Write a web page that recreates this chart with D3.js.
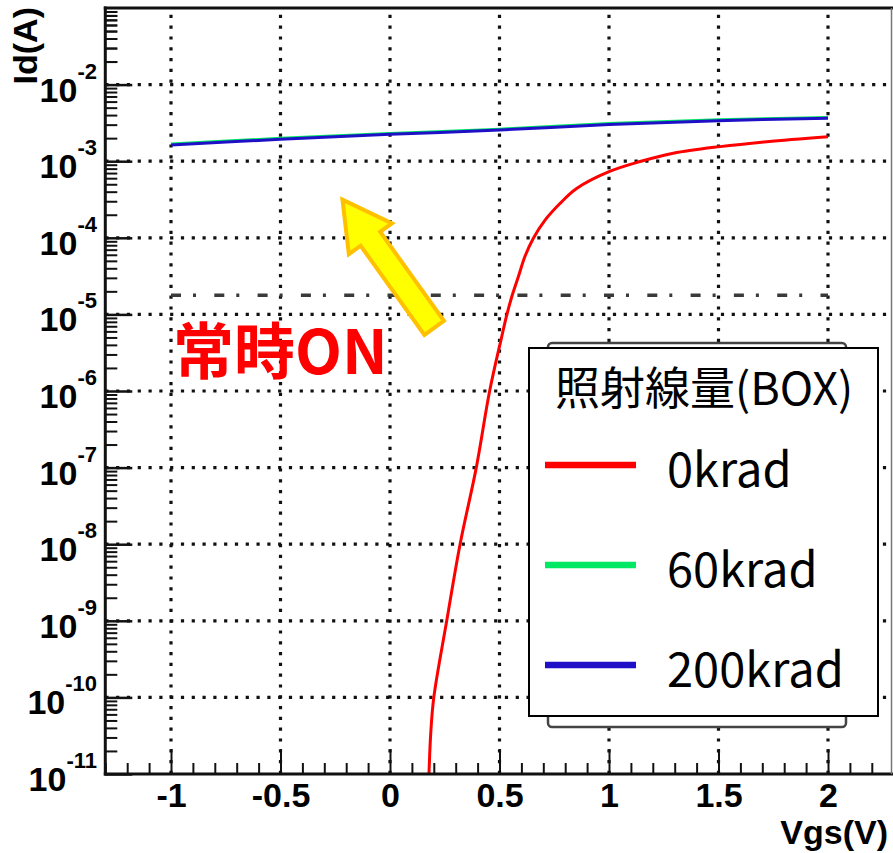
<!DOCTYPE html>
<html><head><meta charset="utf-8">
<script src="https://cdn.jsdelivr.net/npm/d3@7"></script>
<style>body{margin:0;background:#fff}</style>
</head><body><svg id="c" width="893" height="853"></svg>
<script>
// ---- data ----
const seriesNames = ["0krad", "60krad", "200krad"];
const seriesColors = ["#ff0000", "#00e864", "#1f10c8"];
const vgs0 = [0.178, 0.186, 0.200, 0.259, 0.320, 0.394, 0.455, 0.510, 0.533, 0.556, 0.586, 0.616, 0.654, 0.708, 0.776, 0.852, 1.0, 1.142, 1.294, 1.507, 1.72, 2.0];
const id0 = [1e-11, 3.4e-11, 1e-10, 1e-9, 1e-8, 1e-7, 1e-6, 5.1e-6, 9.8e-6, 1.7e-5, 3.1e-5, 5.7e-5, 9.8e-5, 1.7e-4, 2.8e-4, 4.4e-4, 7.3e-4, 9.9e-4, 1.27e-3, 1.55e-3, 1.8e-3, 2.09e-3];
const vgsRad = [-1, -0.5, 0, 0.5, 1, 1.5, 2];
const id60 = [1.68e-3, 1.99e-3, 2.3e-3, 2.62e-3, 3.1e-3, 3.47e-3, 3.72e-3];
const id200 = [1.63e-3, 1.93e-3, 2.24e-3, 2.55e-3, 3.02e-3, 3.38e-3, 3.63e-3];
const thresholdVgs = [-1, 2];
const thresholdId = [1.78e-5, 1.78e-5];
const xTicks = [-1, -0.5, 0, 0.5, 1, 1.5, 2];
const xTickLabels = ["-1", "-0.5", "0", "0.5", "1", "1.5", "2"];
const yExponents = [-11, -10, -9, -8, -7, -6, -5, -4, -3, -2];
const legendTitle = "照射線量(BOX)";
const noteText = "常時ON";
const arrowTail = [0.207, 6.35e-6];
const arrowTip = [-0.225, 3.38e-4];

// ---- layout ----
const svg = d3.select("#c");
const L = 105.3, R = 893.7, T = 8, B = 774;
const x = d3.scaleLinear().domain([-1.3, 2.3]).range([L, R]);
const y = d3.scaleLog().domain([1e-11, 1e-1]).range([B, T]);
const axisFont = "'Liberation Sans', Arial, Helvetica, sans-serif";
const cjkFont = "'Noto Sans CJK JP', 'Noto Sans', sans-serif";

svg.append("rect").attr("width", 893).attr("height", 853).attr("fill", "#fff");

svg.append("defs").append("clipPath").attr("id", "clip")
  .append("rect").attr("x", L).attr("y", T).attr("width", R - L).attr("height", B - T);

// grid
const grid = svg.append("g").attr("stroke", "#111").attr("stroke-width", 3.2).attr("stroke-dasharray", "3.2,7.6");
grid.selectAll(".gv").data(xTicks).join("line")
  .attr("x1", d => x(d)).attr("x2", d => x(d)).attr("y1", B).attr("y2", T);
grid.selectAll(".gh").data(yExponents.filter(e => e > -11)).join("line")
  .attr("y1", d => y(Math.pow(10, d))).attr("y2", d => y(Math.pow(10, d)))
  .attr("x1", L).attr("x2", R);

// threshold dash-dot line
svg.append("line")
  .attr("x1", x(thresholdVgs[0])).attr("x2", x(thresholdVgs[1]))
  .attr("y1", y(thresholdId[0])).attr("y2", y(thresholdId[1]))
  .attr("stroke", "#3a3a3a").attr("stroke-width", 3.5)
  .attr("stroke-dasharray", "10,12,3,18.3");

// curves
const plot = svg.append("g").attr("clip-path", "url(#clip)");
const line = d3.line().x(d => x(d[0])).y(d => y(d[1])).curve(d3.curveCatmullRom.alpha(0.5));
const series = [
  d3.zip(vgs0, id0),
  d3.zip(vgsRad, id60),
  d3.zip(vgsRad, id200)
];
series.forEach((s, i) => {
  plot.append("path").datum(s).attr("d", line)
    .attr("fill", "none").attr("stroke", seriesColors[i]).attr("stroke-width", 3);
});

// axes: x
const xMinor = d3.range(-13, 24).map(v => v / 10).filter(v => Math.abs(v * 2 - Math.round(v * 2)) > 1e-6);
svg.append("g").attr("transform", `translate(0,${B})`)
  .call(d3.axisBottom(x).tickValues(xMinor).tickSize(-11).tickFormat(""))
  .call(g => g.select(".domain").remove())
  .call(g => g.selectAll("line").attr("stroke", "#111").attr("stroke-width", 2));
svg.append("g").attr("transform", `translate(0,${B})`)
  .call(d3.axisBottom(x).tickValues(xTicks).tickSize(-25).tickPadding(9)
    .tickFormat((d, i) => xTickLabels[i]))
  .call(g => g.select(".domain").remove())
  .call(g => g.selectAll("line").attr("stroke", "#111").attr("stroke-width", 2))
  .call(g => g.selectAll("text").attr("font-family", axisFont).attr("font-weight", "bold")
    .attr("font-size", 34).attr("fill", "#000"));

// axes: y
const yMinor = [];
yExponents.forEach(e => { for (let k = 2; k <= 9; k++) yMinor.push(k * Math.pow(10, e)); });
for (let k = 2; k <= 9; k++) yMinor.push(k * 1e-2);
svg.append("g").attr("transform", `translate(${L},0)`)
  .call(d3.axisLeft(y).tickValues(yMinor).tickSize(-12).tickFormat(""))
  .call(g => g.select(".domain").remove())
  .call(g => g.selectAll("line").attr("stroke", "#111").attr("stroke-width", 2));
svg.append("g").attr("transform", `translate(${L},0)`)
  .call(d3.axisLeft(y).tickValues(yExponents.map(e => Math.pow(10, e))).tickSize(-27).tickFormat(""))
  .call(g => g.select(".domain").remove())
  .call(g => g.selectAll("line").attr("stroke", "#111").attr("stroke-width", 2.5));

const ylab = svg.append("g").attr("font-family", axisFont).attr("font-weight", "bold").attr("fill", "#000");
yExponents.forEach(e => {
  const t = ylab.append("text").attr("x", 97).attr("y", y(Math.pow(10, e)) + 17).attr("text-anchor", "end");
  t.append("tspan").attr("font-size", 34).text("10");
  t.append("tspan").attr("font-size", 22).attr("dy", -23).text(String(e));
});

// frame
svg.append("line").attr("x1", L).attr("x2", L).attr("y1", T - 1.5).attr("y2", B + 1.5).attr("stroke", "#111").attr("stroke-width", 3);
svg.append("line").attr("x1", L - 1.5).attr("x2", 893).attr("y1", B).attr("y2", B).attr("stroke", "#111").attr("stroke-width", 3);
svg.append("line").attr("x1", L - 1.5).attr("x2", 893).attr("y1", T).attr("y2", T).attr("stroke", "#111").attr("stroke-width", 3);
svg.append("line").attr("x1", 891.5).attr("x2", 891.5).attr("y1", T).attr("y2", B).attr("stroke", "#777").attr("stroke-width", 1.5);

// axis titles
svg.append("text").attr("transform", "translate(37,7) rotate(-90)").attr("text-anchor", "end")
  .attr("font-family", axisFont).attr("font-weight", "bold").attr("font-size", 34).text("Id(A)");
svg.append("text").attr("x", 888).attr("y", 844).attr("text-anchor", "end")
  .attr("font-family", axisFont).attr("font-weight", "bold").attr("font-size", 34).text("Vgs(V)");

// legend
svg.append("rect").attr("x", 548).attr("y", 343).attr("width", 298).attr("height", 384).attr("rx", 4)
  .attr("fill", "#fff").attr("stroke", "#444").attr("stroke-width", 2.5);
svg.append("rect").attr("x", 529).attr("y", 348).attr("width", 349).attr("height", 368)
  .attr("fill", "#fff").attr("stroke", "#000").attr("stroke-width", 2);
svg.append("text").attr("x", 555).attr("y", 405).attr("font-family", cjkFont).attr("font-size", 45)
  .attr("fill", "#000").text(legendTitle);
const legRowY = [465, 565, 665];
seriesNames.forEach((n, i) => {
  svg.append("line").attr("x1", 545).attr("x2", 636).attr("y1", legRowY[i]).attr("y2", legRowY[i])
    .attr("stroke", seriesColors[i]).attr("stroke-width", 6.5);
  svg.append("text").attr("x", 667).attr("y", legRowY[i] + 22).attr("font-family", cjkFont)
    .attr("font-size", 47).attr("fill", "#000").text(n);
});

// annotation text
svg.append("text").attr("x", 173).attr("y", 374).attr("font-family", cjkFont).attr("font-weight", "bold")
  .attr("font-size", 61).attr("fill", "#ff0000").text(noteText);

// arrow
const tp = [x(arrowTip[0]), y(arrowTip[1])];
const tl = [x(arrowTail[0]), y(arrowTail[1])];
const ang = Math.atan2(tl[1] - tp[1], tl[0] - tp[0]) * 180 / Math.PI;
const len = Math.hypot(tl[0] - tp[0], tl[1] - tp[1]);
const pts = [[3, 0], [51, 26.5], [51, 12], [len - 2, 12], [len - 2, -12], [51, -12], [51, -26.5]];
svg.append("polygon").attr("points", pts.map(p => p.join(",")).join(" "))
  .attr("transform", `translate(${tp[0]},${tp[1]}) rotate(${ang})`)
  .attr("fill", "#ffff00").attr("stroke", "#ffc000").attr("stroke-width", 4).attr("stroke-linejoin", "miter");
</script></body></html>
